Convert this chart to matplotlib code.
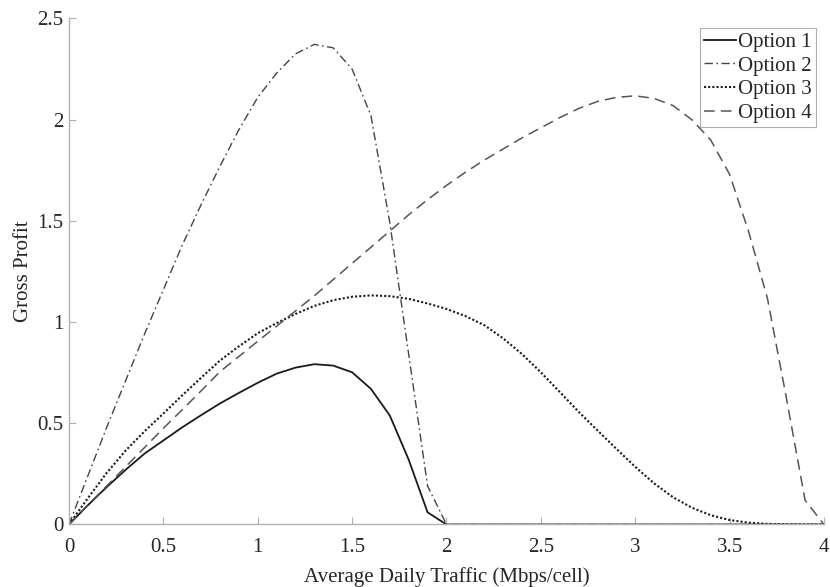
import numpy as np
import matplotlib
matplotlib.use("Agg")
import matplotlib.pyplot as plt

traffic = [round(0.1 * i, 1) for i in range(41)]

option1 = [0, 0.095, 0.185, 0.27, 0.35, 0.415, 0.48, 0.54, 0.598, 0.65, 0.70,
           0.745, 0.775, 0.792, 0.785, 0.752, 0.67, 0.538, 0.32, 0.06, 0,
           0, 0, 0, 0, 0, 0, 0, 0, 0, 0, 0, 0, 0, 0, 0, 0, 0, 0, 0, 0]

option2 = [0, 0.24, 0.48, 0.71, 0.94, 1.16, 1.38, 1.58, 1.77, 1.95, 2.11,
           2.23, 2.325, 2.372, 2.355, 2.25, 2.02, 1.49, 0.84, 0.19, 0,
           0, 0, 0, 0, 0, 0, 0, 0, 0, 0, 0, 0, 0, 0, 0, 0, 0, 0, 0, 0]

option3 = [0, 0.13, 0.255, 0.365, 0.46, 0.548, 0.638, 0.725, 0.81, 0.88, 0.945,
           0.995, 1.04, 1.08, 1.108, 1.125, 1.132, 1.128, 1.115, 1.092, 1.065,
           1.03, 0.985, 0.92, 0.842, 0.752, 0.655, 0.557, 0.465, 0.374, 0.285,
           0.203, 0.135, 0.083, 0.046, 0.022, 0.009, 0.003, 0.001, 0, 0]

option4 = [0, 0.095, 0.19, 0.285, 0.38, 0.475, 0.567, 0.66, 0.755, 0.83, 0.905,
           0.98, 1.055, 1.13, 1.21, 1.29, 1.37, 1.45, 1.53, 1.605, 1.675,
           1.74, 1.80, 1.855, 1.91, 1.96, 2.01, 2.055, 2.09, 2.11, 2.118,
           2.105, 2.07, 2.00, 1.90, 1.73, 1.45, 1.12, 0.63, 0.12, 0]

labels = ["Option 1", "Option 2", "Option 3", "Option 4"]
xticks = [0, 0.5, 1, 1.5, 2, 2.5, 3, 3.5, 4]
yticks = [0, 0.5, 1, 1.5, 2, 2.5]

plt.rcParams['font.family'] = ['Liberation Serif', 'DejaVu Serif']

fig = plt.figure(figsize=(8.3, 5.87), dpi=100)
ax = fig.add_axes([0.0831, 0.1065, 0.9096, 0.862])

ax.plot(traffic, option1, color='#1a1a1a', lw=1.3, ls='-', label=labels[0])
ax.plot(traffic, option2, color='#444444', lw=1.0, ls=(0, (6, 2.5, 1.2, 2.5)), label=labels[1])
ax.plot(traffic, option3, color='#1a1a1a', lw=1.5, ls=(0, (1, 1)), label=labels[2])
ax.plot(traffic, option4, color='#555555', lw=1.1, ls=(0, (7, 4)), label=labels[3])

ax.set_xlim(0, 4)
ax.set_ylim(0, 2.5)
ax.set_xticks(xticks)
ax.set_xticklabels(["0", "0.5", "1", "1.5", "2", "2.5", "3", "3.5", "4"])
ax.set_yticks(yticks)
ax.set_yticklabels(["0", "0.5", "1", "1.5", "2", "2.5"])

for s in ['top', 'right']:
    ax.spines[s].set_visible(False)
for s in ['left', 'bottom']:
    ax.spines[s].set_color('#b0b0b0')
    ax.spines[s].set_linewidth(1.0)

ax.tick_params(direction='in', length=5, width=0.8, color='#b0b0b0',
               labelsize=15, labelcolor='#262626')
ax.tick_params(axis='x', pad=10)
ax.tick_params(axis='y', pad=4)

ax.set_xlabel("Average Daily Traffic (Mbps/cell)", fontsize=15, color='#262626', labelpad=7)
ax.set_ylabel("Gross Profit", fontsize=15, color='#262626', labelpad=3)

leg = ax.legend(loc='upper right', bbox_to_anchor=(0.989, 0.981), fontsize=15,
                frameon=True, fancybox=False, framealpha=1, edgecolor='#b0b0b0',
                handlelength=1.5, handletextpad=0.1, labelspacing=0.2,
                borderpad=0.2, borderaxespad=0)
leg.get_frame().set_linewidth(0.8)
for t in leg.get_texts():
    t.set_color('#262626')

fig.savefig("out.png", dpi=100)
